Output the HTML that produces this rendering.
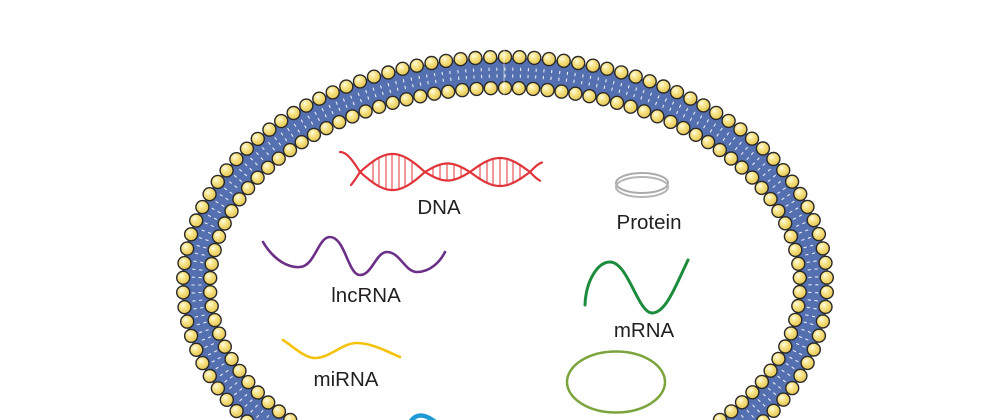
<!DOCTYPE html>
<html><head><meta charset="utf-8"><style>
html,body{margin:0;padding:0;background:#fff;width:1000px;height:420px;overflow:hidden;}
svg{display:block;}
text{font-family:"Liberation Sans",Arial,sans-serif;font-size:20.5px;fill:#231f20;text-anchor:middle;}
</style></head><body>
<svg id="s" width="1000" height="420" viewBox="0 0 1000 420">
<defs>
<radialGradient id="yg" cx="0.38" cy="0.34" r="0.7">
<stop offset="0" stop-color="#fffbe8"/>
<stop offset="0.35" stop-color="#f8e68e"/>
<stop offset="1" stop-color="#e4c34a"/>
</radialGradient>
</defs>
<rect width="1000" height="420" fill="#fff"/>
<g id="mem"></g>
<g id="dna" fill="none" stroke="#e0343a" stroke-linecap="round"></g>
<text x="439" y="214">DNA</text>
<ellipse cx="642" cy="183" rx="26" ry="10" fill="none" stroke="#ababab" stroke-width="2"/>
<ellipse cx="642" cy="187" rx="26" ry="10" fill="none" stroke="#b5b5b5" stroke-width="2"/>
<text x="649" y="229">Protein</text>
<path d="M263,242 C275,262 290,268 300,267 C315,266 318,237 330,237 C345,237 348,275 360,275 C372,275 376,252 387,252 C400,252 405,272 417,272 C430,272 440,262 445,252" fill="none" stroke="#6b2f87" stroke-width="2.6" stroke-linecap="round"/>
<text x="366" y="302">lncRNA</text>
<path d="M585,305 C586,280 598,262 610,262 C628,262 638,313 652,313 C666,313 676,285 688,260" fill="none" stroke="#1c8c3c" stroke-width="3" stroke-linecap="round"/>
<text x="644" y="337">mRNA</text>
<path d="M283,340 C295,348 305,358 315,358 C330,358 342,343 357,343 C372,343 388,352 400,357" fill="none" stroke="#f4c20d" stroke-width="2.6" stroke-linecap="round"/>
<text x="346" y="386">miRNA</text>
<ellipse cx="616" cy="382" rx="49" ry="30.5" fill="none" stroke="#7ba53c" stroke-width="2.5"/>
<path d="M411,421 Q419,410 434,421" fill="none" stroke="#1e9ad6" stroke-width="4.5" stroke-linecap="round"/>
</svg>
<script>
(function(){
var cx=505, cy=285;
function pts(a,b,N){
  var M=6000, xs=[], ys=[], ls=[0], L=0;
  for(var i=0;i<=M;i++){
    var t=-Math.PI/2+2*Math.PI*i/M;
    xs.push(cx+a*Math.cos(t)); ys.push(cy+b*Math.sin(t));
    if(i>0){L+=Math.hypot(xs[i]-xs[i-1],ys[i]-ys[i-1]);ls.push(L);}
  }
  var out=[], j=0;
  for(var k=0;k<N;k++){
    var target=L*k/N;
    while(j<M && ls[j+1]<target) j++;
    var t=-Math.PI/2+2*Math.PI*j/M;
    var nx=b*Math.cos(t), ny=a*Math.sin(t), nl=Math.hypot(nx,ny);
    out.push({x:xs[j],y:ys[j],nx:nx/nl,ny:ny/nl});
  }
  return out;
}
var h='';
var am=308.5, bm=212.5;
h+='<ellipse cx="'+cx+'" cy="'+cy+'" rx="'+am+'" ry="'+bm+'" fill="none" stroke="#3f5894" stroke-width="30"/>';
h+='<ellipse cx="'+cx+'" cy="'+cy+'" rx="'+am+'" ry="'+bm+'" fill="none" stroke="#5570b0" stroke-width="26"/>';
var d=pts(am,bm,212), ds='';
d.forEach(function(p){
  ds+='M'+(p.x+p.nx*1.8).toFixed(1)+','+(p.y+p.ny*1.8).toFixed(1)+'L'+(p.x+p.nx*5).toFixed(1)+','+(p.y+p.ny*5).toFixed(1);
  ds+='M'+(p.x-p.nx*1.8).toFixed(1)+','+(p.y-p.ny*1.8).toFixed(1)+'L'+(p.x-p.nx*5).toFixed(1)+','+(p.y-p.ny*5).toFixed(1);
});
h+='<path d="'+ds+'" stroke="#fff" stroke-width="1.1" opacity="0.85"/>';
function circ(a,b,N){
  pts(a,b,N).forEach(function(p){
    h+='<circle cx="'+p.x.toFixed(1)+'" cy="'+p.y.toFixed(1)+'" r="6.5" fill="url(#yg)" stroke="#2a2a2a" stroke-width="1.4"/>';
  });
}
circ(322,228,118);
circ(295,197,110);
h+='<line x1="504" y1="48" x2="504" y2="97" stroke="#fff" stroke-width="0.8" opacity="0.7"/>';
document.getElementById('mem').innerHTML=h;

var lobes=[{x0:320,x1:360,A:20,sg:-1},{x0:360,x1:425,A:18,sg:1},{x0:425,x1:470,A:8.5,sg:-1},{x0:470,x1:530,A:14,sg:1},{x0:530,x1:560,A:10,sg:-1}];
function y(x,s){
  for(var i=0;i<lobes.length;i++){var l=lobes[i];
    if(x>=l.x0&&x<=l.x1) return 172+s*l.sg*l.A*Math.sin(Math.PI*(x-l.x0)/(l.x1-l.x0));}
  return 172;
}
function strand(xa,xb,s){
  var p='';
  for(var x=xa;x<=xb;x+=1){p+=(x==xa?'M':'L')+x+','+y(x,s).toFixed(1);}
  return '<path d="'+p+'" stroke-width="2.2"/>';
}
var g='';
var rungs=[373,379,386,392,399,405,412,433,440,447,454,461,480,487,493,500,507,513,520];
var rp='';
rungs.forEach(function(x){rp+='M'+x+','+y(x,1).toFixed(1)+'L'+x+','+y(x,-1).toFixed(1);});
g+='<path d="'+rp+'" stroke-width="1"/>';
g+=strand(340,542,1);
g+=strand(351,540,-1);
document.getElementById('dna').innerHTML=g;
})();
</script>
</body></html>
